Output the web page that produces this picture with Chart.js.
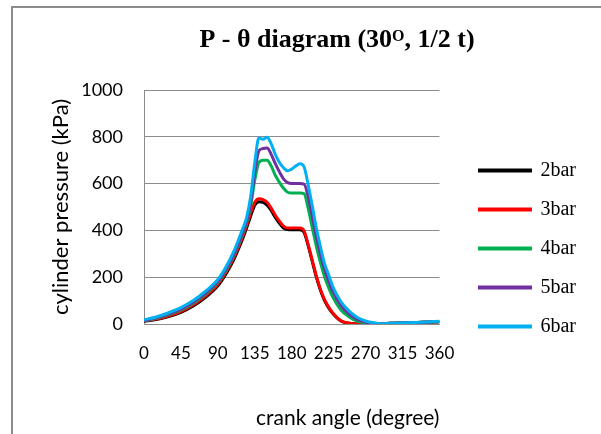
<!DOCTYPE html>
<html>
<head>
<meta charset="utf-8">
<script src="https://cdn.jsdelivr.net/npm/chart.js@4/dist/chart.umd.min.js"></script>
<style>
    body { margin: 0; overflow: hidden; background: #fff; }
    #wrap { position: relative; width: 601px; height: 434px; }
    #frame { position: absolute; left: 11px; top: 6px; width: 640px; height: 480px;
             border-left: 2px solid #8c8c8c; border-top: 2px solid #8c8c8c; }
    #pChart { position: absolute; left: 0; top: 0; }
</style>
</head>
<body>
<div id="wrap">
    <div id="frame"></div>
    <canvas id="pChart" width="601" height="434"></canvas>
</div>
<script>
// crank angle (degree)
var angles = [0, 15, 30, 45, 60, 75, 90, 100, 110, 120, 125, 130, 135, 140, 145, 150, 155, 160, 165, 170,
    175, 180, 185, 190, 195, 200, 205, 210, 215, 220, 225, 230, 240, 250, 260, 270, 280, 290, 300, 320, 340, 360];

// cylinder pressure (kPa)
var p2bar = [12, 19, 32, 50, 77, 114, 163, 215, 280, 362, 410, 462, 508, 522, 520, 508, 485, 455, 430, 410,
    404, 403, 403, 403, 392, 335, 268, 200, 144, 100, 69, 45, 13, 3, 0, 0, 0, 1, 3, 5, 7, 10];
var p3bar = [13, 21, 35, 54, 82, 120, 170, 222, 288, 372, 420, 475, 520, 535, 532, 520, 495, 465, 440, 418,
    410, 410, 410, 410, 398, 340, 272, 205, 148, 104, 72, 47, 14, 3, 0, 0, 0, 1, 3, 5, 7, 10];
var p4bar = [14, 24, 40, 60, 89, 128, 178, 230, 297, 383, 432, 505, 615, 690, 700, 700, 675, 635, 605, 580,
    563, 560, 560, 560, 557, 495, 412, 332, 262, 202, 155, 115, 60, 30, 12, 4, 1, 0, 3, 5, 7, 10];
var p5bar = [15, 26, 43, 64, 93, 132, 182, 235, 302, 390, 440, 520, 650, 740, 750, 752, 725, 685, 650, 620,
    604, 600, 600, 600, 598, 545, 460, 375, 300, 235, 185, 140, 78, 42, 20, 8, 2, 0, 3, 5, 7, 11];
var p6bar = [18, 30, 48, 70, 100, 140, 190, 245, 315, 405, 455, 545, 690, 795, 790, 798, 770, 725, 690, 668,
    655, 662, 675, 685, 672, 595, 505, 410, 330, 258, 210, 160, 95, 55, 28, 13, 5, 1, 3, 5, 8, 12];

var seriesNames = ['2bar', '3bar', '4bar', '5bar', '6bar'];
var seriesValues = [p2bar, p3bar, p4bar, p5bar, p6bar];
var seriesColors = ['#000000', '#ff0000', '#00b050', '#7030a0', '#00b0f0'];

var yTicks = [0, 200, 400, 600, 800, 1000];
var xTicks = [0, 45, 90, 135, 180, 225, 270, 315, 360];

var titleMain = 'P - \u03b8 diagram (30';
var titleSup = 'O';
var titleTail = ', 1/2 t)';

function toPoints(values) {
    return values.map(function (v, i) {
        return { x: angles[i], y: v };
    });
}

var datasets = seriesNames.map(function (name, i) {
    return {
        label: name,
        data: toPoints(seriesValues[i]),
        borderColor: seriesColors[i],
        backgroundColor: seriesColors[i],
        borderWidth: 3,
        pointRadius: 0,
        fill: false,
        showLine: true,
        cubicInterpolationMode: 'monotone',
        // later series are drawn on top, like the original
        order: seriesNames.length - i
    };
});

// title with a superscript O, drawn on the canvas
var titlePlugin = {
    id: 'pTitle',
    afterDraw: function (chart) {
        var ctx = chart.ctx;
        var big = 'bold 26px "Liberation Serif", "Times New Roman", serif';
        var small = 'bold 16px "Liberation Serif", "Times New Roman", serif';
        ctx.save();
        ctx.fillStyle = '#000';
        ctx.textBaseline = 'alphabetic';
        ctx.textAlign = 'left';
        ctx.font = big;
        var w1 = ctx.measureText(titleMain).width;
        var w3 = ctx.measureText(titleTail).width;
        ctx.font = small;
        var w2 = ctx.measureText(titleSup).width;
        var x = 337 - (w1 + w2 + w3) / 2;
        var y = 47;
        ctx.font = big;
        ctx.fillText(titleMain, x, y);
        ctx.font = small;
        ctx.fillText(titleSup, x + w1, y - 6);
        ctx.font = big;
        ctx.fillText(titleTail, x + w1 + w2, y);
        ctx.restore();
    }
};

var gridGray = '#8c8c8c';

var options = {
    type: 'scatter',
    data: { datasets: datasets },
    options: {
        responsive: false,
        animation: false,
        layout: {
            padding: { top: 90, left: 40, right: 15, bottom: 27 }
        },
        scales: {
            x: {
                type: 'linear',
                min: 0,
                max: 360,
                afterBuildTicks: function (axis) {
                    axis.ticks = xTicks.map(function (v) { return { value: v }; });
                },
                afterFit: function (axis) { axis.height = 83; },
                grid: { display: false },
                border: { color: gridGray, width: 1 },
                ticks: {
                    color: '#000',
                    padding: 11,
                    maxRotation: 0,
                    font: { family: 'Lato', size: 17 },
                    callback: function (v) { return String(v); }
                },
                title: {
                    display: true,
                    text: 'crank angle (degree)',
                    align: 'end',
                    color: '#000',
                    font: { family: 'Lato', size: 21 },
                    padding: { top: 0, bottom: -24 }
                }
            },
            y: {
                type: 'linear',
                min: 0,
                max: 1000,
                afterBuildTicks: function (axis) {
                    axis.ticks = yTicks.map(function (v) { return { value: v }; });
                },
                afterFit: function (axis) { axis.width = 104; },
                grid: { color: gridGray, lineWidth: 1, drawTicks: false },
                border: { color: gridGray, width: 1 },
                ticks: {
                    color: '#000',
                    padding: 21,
                    font: { family: 'Lato', size: 18 },
                    callback: function (v) { return String(v); }
                },
                title: {
                    display: true,
                    text: 'cylinder pressure (kPa)',
                    color: '#000',
                    font: { family: 'Lato', size: 22 },
                    padding: { top: 8, bottom: 0 }
                }
            },
            // empty axis that keeps the legend away from the plot
            gap: {
                axis: 'y',
                position: 'right',
                display: true,
                afterFit: function (axis) { axis.width = 21; },
                grid: { display: false },
                border: { display: false },
                ticks: { display: false }
            }
        },
        plugins: {
            title: { display: false },
            tooltip: { enabled: false },
            legend: {
                position: 'right',
                align: 'center',
                maxWidth: 200,
                labels: {
                    boxWidth: 51,
                    boxHeight: 1,
                    padding: 19,
                    color: '#000',
                    font: { family: 'Liberation Serif', size: 20 },
                    sort: function (a, b) { return a.datasetIndex - b.datasetIndex; }
                }
            }
        }
    },
    plugins: [titlePlugin]
};

var ctx = document.getElementById('pChart').getContext('2d');
var theChart = new Chart(ctx, options);
</script>
</body>
</html>
